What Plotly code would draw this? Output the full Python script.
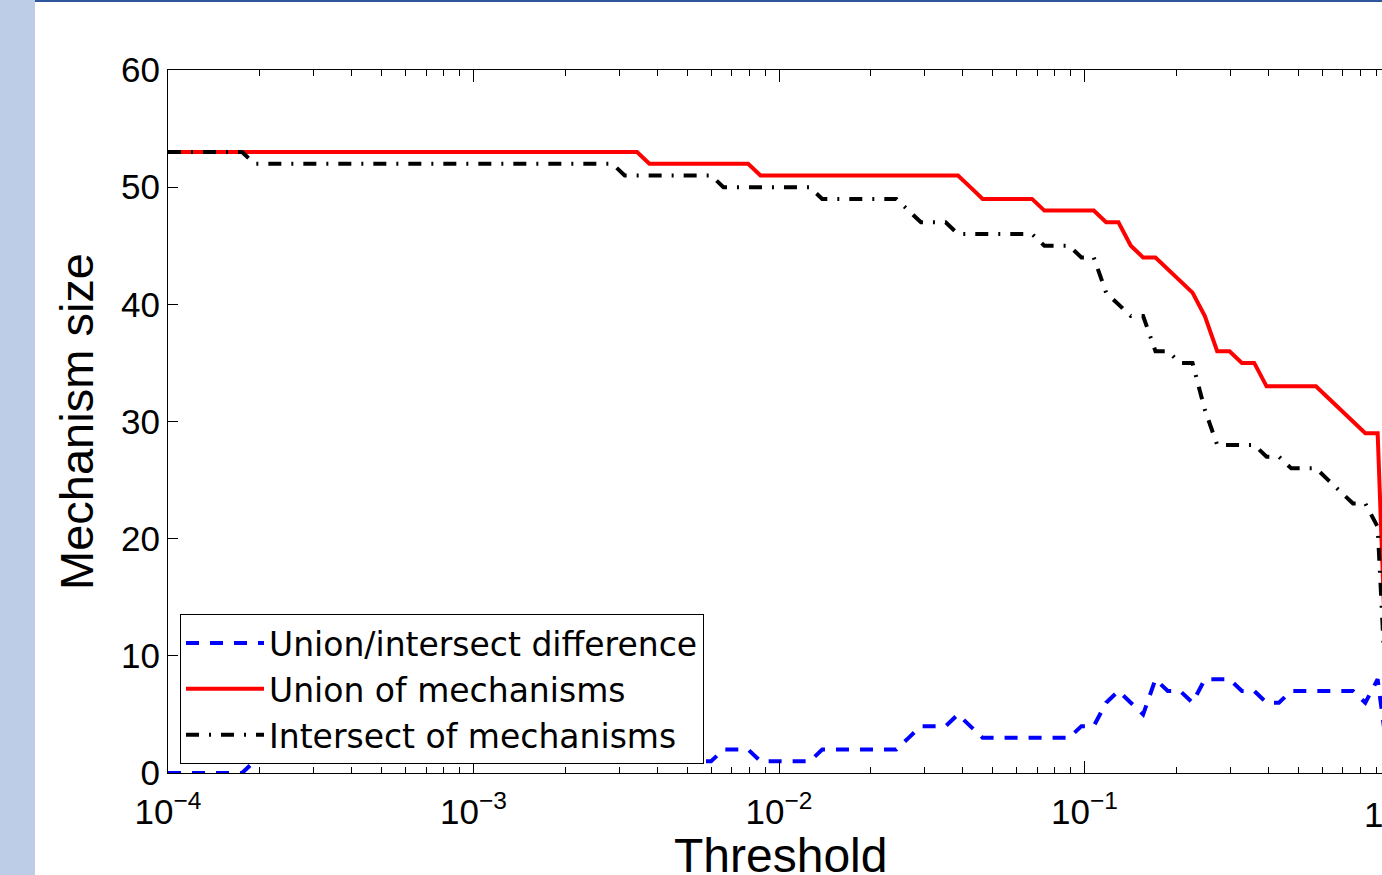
import numpy as np
import plotly.graph_objects as go

# Threshold grid (100 log-spaced samples from 1e-4 to 1)
threshold = np.logspace(-4, 0, 100)

union = [
    53, 53, 53, 53, 53, 53, 53, 53, 53, 53,
    53, 53, 53, 53, 53, 53, 53, 53, 53, 53,
    53, 53, 53, 53, 53, 53, 53, 53, 53, 53,
    53, 53, 53, 53, 53, 53, 53, 53, 53, 52,
    52, 52, 52, 52, 52, 52, 52, 52, 51, 51,
    51, 51, 51, 51, 51, 51, 51, 51, 51, 51,
    51, 51, 51, 51, 51, 50, 49, 49, 49, 49,
    49, 48, 48, 48, 48, 48, 47, 47, 45, 44,
    44, 43, 42, 41, 39, 36, 36, 35, 35, 33,
    33, 33, 33, 33, 32, 31, 30, 29, 29, 0,
]

intersect = [
    53, 53, 53, 53, 53, 53, 53, 52, 52, 52,
    52, 52, 52, 52, 52, 52, 52, 52, 52, 52,
    52, 52, 52, 52, 52, 52, 52, 52, 52, 52,
    52, 52, 52, 52, 52, 52, 52, 51, 51, 51,
    51, 51, 51, 51, 51, 50, 50, 50, 50, 50,
    50, 50, 50, 49, 49, 49, 49, 49, 49, 49,
    48, 47, 47, 47, 46, 46, 46, 46, 46, 46,
    46, 45, 45, 45, 44, 44, 41, 40, 39, 39,
    36, 36, 35, 35, 31, 28, 28, 28, 28, 27,
    27, 26, 26, 26, 25, 24, 23, 23, 21, 0,
]

difference = [
    0, 0, 0, 0, 0, 0, 0, 1, 1, 1,
    1, 1, 1, 1, 1, 1, 1, 1, 1, 1,
    1, 1, 1, 1, 1, 1, 1, 1, 1, 1,
    1, 1, 1, 1, 1, 1, 1, 2, 2, 1,
    1, 1, 1, 1, 1, 2, 2, 2, 1, 1,
    1, 1, 1, 2, 2, 2, 2, 2, 2, 2,
    3, 4, 4, 4, 5, 4, 3, 3, 3, 3,
    3, 3, 3, 3, 4, 4, 6, 7, 6, 5,
    8, 7, 7, 6, 8, 8, 8, 7, 7, 6,
    6, 7, 7, 7, 7, 7, 7, 6, 8, 0,
]

series_names = ["Union/intersect difference", "Union of mechanisms", "Intersect of mechanisms"]

x_major_vals = [1e-4, 1e-3, 1e-2, 1e-1]
x_major_text = ["10<sup>\u22124</sup>", "10<sup>\u22123</sup>", "10<sup>\u22122</sup>", "10<sup>\u22121</sup>"]
x_minor_vals = [m * 10.0 ** e for e in range(-4, 0) for m in range(2, 10)]
y_tick_vals = [0, 10, 20, 30, 40, 50, 60]

x_title = "Threshold"
y_title = "Mechanism size"

FONT = "Liberation Sans, Arial, Helvetica, sans-serif"
LEGEND_FONT = "DejaVu Sans, Liberation Sans, Arial, sans-serif"

fig = go.Figure()
fig.add_trace(go.Scatter(x=threshold, y=difference, mode="lines", name=series_names[0],
                         line=dict(color="#0000FF", width=4, dash="13px,11px")))
fig.add_trace(go.Scatter(x=threshold, y=union, mode="lines", name=series_names[1],
                         line=dict(color="#FF0000", width=4)))
fig.add_trace(go.Scatter(x=threshold, y=intersect, mode="lines", name=series_names[2],
                         line=dict(color="#000000", width=4, dash="13px,10px,2px,10px")))

W, H = 1382, 875
L, T, B = 168, 70, 102
plot_w = W - L
plot_h = H - T - B
decade_px = 305.5
x_end = -4 + plot_w / decade_px

def px_to_paper_x(px):
    return (px - L) / plot_w

def px_to_paper_y(py):
    return (H - B - py) / plot_h

fig.update_layout(
    width=W, height=H, autosize=False,
    margin=dict(l=L, r=0, t=T, b=B, pad=0),
    paper_bgcolor="white", plot_bgcolor="white",
    font=dict(family=FONT, color="black", size=35),
    showlegend=True,
    legend=dict(
        x=px_to_paper_x(180), y=px_to_paper_y(614), xanchor="left", yanchor="top",
        bgcolor="white", bordercolor="black", borderwidth=1,
        font=dict(family=LEGEND_FONT, size=33, color="black"),
        itemwidth=78, tracegroupgap=0,
    ),
    xaxis=dict(
        type="log", range=[-4, x_end],
        showgrid=False, zeroline=False,
        showline=True, linecolor="black", linewidth=1, mirror="ticks",
        ticks="inside", ticklen=12, tickwidth=1, tickcolor="black",
        tickvals=x_major_vals, ticktext=x_major_text,
        ticklabelstandoff=8,
        tickfont=dict(family=FONT, size=35, color="black"),
        minor=dict(tickvals=x_minor_vals, ticks="inside", ticklen=6, tickwidth=1, tickcolor="black", showgrid=False),
    ),
    yaxis=dict(
        range=[0, 60],
        showgrid=False, zeroline=False,
        showline=True, linecolor="black", linewidth=1, mirror=False,
        ticks="inside", ticklen=10, tickwidth=1, tickcolor="black",
        tickvals=y_tick_vals,
        tickfont=dict(family=FONT, size=35, color="black"),
        title=dict(text=y_title, font=dict(family=FONT, size=47, color="black"), standoff=12),
    ),
    shapes=[
        dict(type="rect", xref="paper", yref="paper",
             x0=px_to_paper_x(0), x1=px_to_paper_x(35), y0=px_to_paper_y(H), y1=px_to_paper_y(0),
             fillcolor="#BDCDE8", line=dict(width=0), layer="below"),
        dict(type="rect", xref="paper", yref="paper",
             x0=px_to_paper_x(35), x1=px_to_paper_x(W), y0=px_to_paper_y(2), y1=px_to_paper_y(0),
             fillcolor="#2E569B", line=dict(width=0), layer="below"),
    ],
    annotations=[
        dict(text="10<sup>0</sup>", xref="paper", yref="paper",
             x=px_to_paper_x(1390), y=px_to_paper_y(788), xanchor="center", yanchor="top",
             showarrow=False, font=dict(family=FONT, size=35, color="black")),
        dict(text=x_title, xref="paper", yref="paper",
             x=px_to_paper_x(780), y=px_to_paper_y(884), xanchor="center", yanchor="bottom",
             showarrow=False, font=dict(family=FONT, size=48, color="black")),
    ],
)

fig.write_html("out.html")
